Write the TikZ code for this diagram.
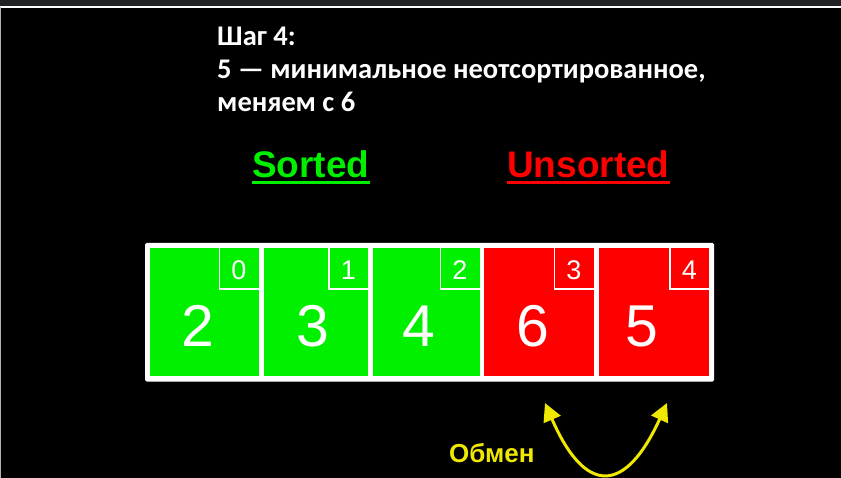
\documentclass[tikz,border=0pt]{standalone}
\usepackage{fontspec}
\setmainfont{Carlito}
\newfontfamily\arialf{Liberation Sans}
\usetikzlibrary{arrows.meta}
\definecolor{cgreen}{RGB}{0,240,0}
\definecolor{cred}{RGB}{255,0,0}
\definecolor{cyel}{RGB}{240,232,0}
\definecolor{topbar}{RGB}{32,34,38}
\tikzset{
  title/.style={anchor=base west, inner sep=0pt, text=white, font=\bfseries\fontsize{28.5}{30}\selectfont},
  head/.style={anchor=base west, inner sep=0pt, font=\arialf\bfseries\fontsize{37}{40}\selectfont},
  bigdigit/.style={anchor=base, inner sep=0pt, text=white, font=\arialf\fontsize{59}{60}\selectfont},
  idxdigit/.style={anchor=base, inner sep=0pt, text=white, font=\arialf\fontsize{27}{28}\selectfont},
  idxbox/.style={draw=white, line width=1.5pt},
}
\begin{document}
\begin{tikzpicture}[x=1pt,y=-1pt]
\useasboundingbox (0,0) rectangle (841,478);
\fill[black] (0,0) rectangle (841,478);
\fill[topbar] (0,0) rectangle (841,6);
\draw[white, line width=1.5pt] (0,7) -- (841,7);
\draw[gray!60, line width=0.8pt] (0.5,7) -- (0.5,478);
% title
\node[title] (t1) at (217,45.5) {Шаг 4:};
\node[title] (t2) at (217,78.5) {5 — минимальное неотсортированное,};
\node[title] (t3) at (217,111.5) {меняем с 6};
% headers
\node[head, text=cgreen] (hs) at (252,178) {Sorted};
\node[head, text=cred] (hu) at (507,178) {Unsorted};
\draw[cgreen, line width=3pt] ([yshift=-4.5pt]hs.base west) -- ([yshift=-4.5pt]hs.base east);
\draw[cred, line width=3pt] ([yshift=-4.5pt]hu.base west) -- ([yshift=-4.5pt]hu.base east);
% array
\fill[white, rounded corners=1.5pt] (145,243) rectangle (714,381.5);
\foreach \i/\xa/\xb/\col/\v/\vx in {0/150/258.5/cgreen/2/198, 1/263.5/368/cgreen/3/312.5, 2/373/479.5/cgreen/4/419, 3/484/593.5/cred/6/533, 4/598.5/709/cred/5/642}{
  \fill[\col] (\xa,248.5) rectangle (\xb,376.5);
  \draw[idxbox] (\xb-39,248.5) -- (\xb-39,289) -- (\xb,289);
  \node[idxdigit] (i\i) at (\xb-19.5,280) {\i};
  \node[bigdigit] (v\i) at (\vx,346.5) {\v};
}
% swap arrow
\node[anchor=base west, inner sep=0pt, text=cyel, font=\arialf\bfseries\fontsize{26}{28}\selectfont] (ob) at (449,462) {Обмен};
\coordinate (al) at (545,403);
\coordinate (ar) at (667,403);
\draw[cyel, line width=3pt, {Triangle[length=18pt,width=18pt]}-{Triangle[length=18pt,width=18pt]}]
  (al) .. controls (585,495) and (625,495) .. (ar);
\end{tikzpicture}
\end{document}
